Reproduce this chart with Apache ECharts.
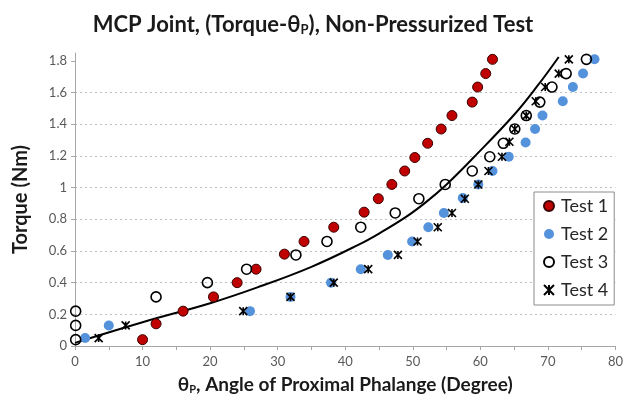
<!DOCTYPE html>
<html>
<head>
<meta charset="utf-8">
<script src="https://cdn.jsdelivr.net/npm/echarts@6/dist/echarts.min.js"></script>
<style>html,body{margin:0;padding:0;background:#fff}#c{width:626px;height:405px}</style>
</head>
<body>
<div id="c"></div>
<script>
const xTicks = [0,5,10,15,20,25,30,35,40,45,50,55,60,65,70,75,80];
const xLabels = [0,10,20,30,40,50,60,70,80];
const yTicks = [0,0.2,0.4,0.6,0.8,1,1.2,1.4,1.6,1.8];

const test1X = [10,12,16,20.5,24,26.8,31,33.9,38.3,42.8,44.9,46.9,48.8,50.3,52.2,54.2,55.8,58.8,59.6,60.8,61.8];
const test1Y = [0.04,0.14,0.22,0.31,0.40,0.485,0.58,0.66,0.75,0.845,0.93,1.02,1.105,1.19,1.28,1.37,1.455,1.54,1.635,1.72,1.81];

const test2X = [1.5,5,25.9,31.9,37.9,42.3,46.3,49.9,52.3,54.6,57.4,59.7,61.8,64.2,66.7,68.1,69.2,72.2,73.7,75.2,76.9];
const test2Y = [0.05,0.13,0.22,0.31,0.40,0.485,0.575,0.66,0.75,0.84,0.935,1.02,1.105,1.195,1.285,1.37,1.455,1.545,1.635,1.72,1.81];

const test3X = [0.1,0.1,0.1,12,19.6,25.4,32.7,37.3,42.3,47.4,50.9,54.8,58.8,61.4,63.4,65.1,66.8,68.8,70.6,72.7,75.7];
const test3Y = [0.04,0.13,0.22,0.31,0.40,0.485,0.575,0.66,0.75,0.84,0.93,1.02,1.105,1.195,1.28,1.37,1.455,1.54,1.635,1.72,1.81];

const test4X = [3.5,7.5,24.9,31.9,38.3,43.4,47.8,50.7,53.7,55.8,57.7,59.7,61.2,63.2,64.3,65.1,66.8,68.2,69.6,71.6,73.1];
const test4Y = [0.05,0.13,0.22,0.31,0.40,0.485,0.575,0.66,0.75,0.84,0.93,1.02,1.105,1.195,1.29,1.37,1.455,1.545,1.635,1.72,1.81];

const trendX = [0,10,20,27,35,42,45,49,52,55,59,65,68.5,71.6];
const trendY = [0.02,0.15,0.27,0.37,0.50,0.64,0.71,0.815,0.91,1.02,1.19,1.46,1.645,1.825];

const zip = (xs, ys) => xs.map((x, i) => [x, ys[i]]);
const FONT = 'Lato';

const chart = echarts.init(document.getElementById('c'), null, {renderer: 'canvas'});
chart.setOption({
  animation: false,
  backgroundColor: '#fff',
  title: {
    text: '{a|MCP Joint, (Torque-θ}{s|P}{a|), Non-Pressurized Test}',
    left: 'center',
    top: 9,
    textStyle: {
      rich: {
        a: {fontFamily: FONT, fontWeight: 'bold', fontSize: 22, color: '#1a1a1a'},
        s: {fontFamily: FONT, fontWeight: 'bold', fontSize: 13, color: '#1a1a1a', verticalAlign: 'bottom', padding: [9,0,0,0]}
      }
    }
  },
  grid: {left: 75, right: 4, top: 53, bottom: 59},
  xAxis: {
    type: 'value',
    min: 0, max: 80,
    name: '{a|θ}{s|P}{a|, Angle of Proximal Phalange (Degree)}',
    nameLocation: 'middle',
    nameGap: 29,
    nameTextStyle: {
      rich: {
        a: {fontFamily: FONT, fontWeight: 'bold', fontSize: 19, color: '#1a1a1a'},
        s: {fontFamily: FONT, fontWeight: 'bold', fontSize: 11, color: '#1a1a1a', verticalAlign: 'bottom', padding: [9,0,0,0]}
      }
    },
    axisLine: {show: true, onZero: false, lineStyle: {color: '#a6a6a6', width: 1}},
    axisTick: {show: true, length: 4, inside: false, customValues: xTicks, lineStyle: {color: '#a6a6a6'}},
    axisLabel: {customValues: xLabels, margin: 9, fontFamily: FONT, fontSize: 13, color: '#595959'},
    splitLine: {show: false}
  },
  yAxis: {
    type: 'value',
    min: 0, max: 1.85,
    name: 'Torque (Nm)',
    nameLocation: 'middle',
    nameGap: 44,
    nameTextStyle: {fontFamily: FONT, fontWeight: 'bold', fontSize: 20, color: '#1a1a1a'},
    axisLine: {show: true, lineStyle: {color: '#a6a6a6', width: 1}},
    axisTick: {show: true, length: 4, customValues: yTicks, lineStyle: {color: '#a6a6a6'}},
    axisLabel: {customValues: yTicks, margin: 8, fontFamily: FONT, fontSize: 13, color: '#595959'},
    splitLine: {show: true, showMinLine: false, showMaxLine: false, lineStyle: {color: '#bfbfbf', type: [2,3], width: 1}}
  },
  legend: {
    orient: 'vertical',
    left: 534, top: 192,
    padding: [4, 6, 5, 9],
    itemGap: 8,
    itemWidth: 10, itemHeight: 10,
    backgroundColor: '#fff',
    borderColor: '#8c8c8c', borderWidth: 1,
    textStyle: {fontFamily: FONT, fontSize: 18, color: '#262626', lineHeight: 20, padding: [0,0,0,2]},
    data: ['Test 1','Test 2','Test 3','Test 4']
  },
  series: [
    {
      name: 'trend', type: 'line', data: zip(trendX, trendY), smooth: 0.4,
      showSymbol: false, symbol: 'none', lineStyle: {color: '#000', width: 2}, z: 1, silent: true
    },
    {
      name: 'Test 1', type: 'scatter', data: zip(test1X, test1Y), symbol: 'circle', symbolSize: 10,
      itemStyle: {color: '#c00000', borderColor: '#3a0000', borderWidth: 1, opacity: 1}, z: 3
    },
    {
      name: 'Test 2', type: 'scatter', data: zip(test2X, test2Y), symbol: 'circle', symbolSize: 10,
      itemStyle: {color: '#5592dc', opacity: 1}, z: 3
    },
    {
      name: 'Test 3', type: 'scatter', data: zip(test3X, test3Y), symbol: 'circle', symbolSize: 10,
      itemStyle: {color: 'rgba(255,255,255,0)', borderColor: '#000', borderWidth: 1.6, opacity: 1}, z: 4
    },
    {
      name: 'Test 4', type: 'scatter', data: zip(test4X, test4Y),
      symbol: 'path://M0,0L10,10M10,0L0,10M5,0L5,10', symbolSize: 8,
      itemStyle: {color: 'rgba(0,0,0,0)', borderColor: '#000', borderWidth: 1.6, opacity: 1}, z: 5
    }
  ]
});
</script>
</body>
</html>
